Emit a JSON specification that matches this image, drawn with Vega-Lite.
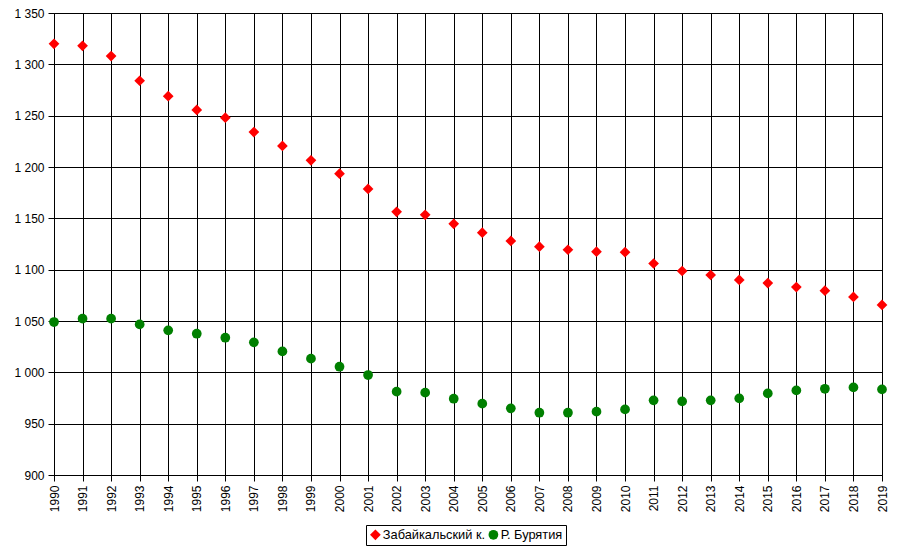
{
  "$schema": "https://vega.github.io/schema/vega-lite/v6.json",
  "width": 828,
  "height": 462,
  "autosize": {"type": "none"},
  "padding": {"left": 54, "top": 13, "right": 21, "bottom": 74},
  "background": "white",
  "data": {"values": [
    {"year": 1990, "region": "Забайкальский к.", "value": 1320},
    {"year": 1991, "region": "Забайкальский к.", "value": 1318},
    {"year": 1992, "region": "Забайкальский к.", "value": 1308},
    {"year": 1993, "region": "Забайкальский к.", "value": 1284},
    {"year": 1994, "region": "Забайкальский к.", "value": 1269},
    {"year": 1995, "region": "Забайкальский к.", "value": 1255.6},
    {"year": 1996, "region": "Забайкальский к.", "value": 1248},
    {"year": 1997, "region": "Забайкальский к.", "value": 1234},
    {"year": 1998, "region": "Забайкальский к.", "value": 1220.5},
    {"year": 1999, "region": "Забайкальский к.", "value": 1206.5},
    {"year": 2000, "region": "Забайкальский к.", "value": 1193.5},
    {"year": 2001, "region": "Забайкальский к.", "value": 1178.6},
    {"year": 2002, "region": "Забайкальский к.", "value": 1156.3},
    {"year": 2003, "region": "Забайкальский к.", "value": 1153.4},
    {"year": 2004, "region": "Забайкальский к.", "value": 1144.7},
    {"year": 2005, "region": "Забайкальский к.", "value": 1136},
    {"year": 2006, "region": "Забайкальский к.", "value": 1128},
    {"year": 2007, "region": "Забайкальский к.", "value": 1122.4},
    {"year": 2008, "region": "Забайкальский к.", "value": 1119.4},
    {"year": 2009, "region": "Забайкальский к.", "value": 1117.5},
    {"year": 2010, "region": "Забайкальский к.", "value": 1117},
    {"year": 2011, "region": "Забайкальский к.", "value": 1106},
    {"year": 2012, "region": "Забайкальский к.", "value": 1098.7},
    {"year": 2013, "region": "Забайкальский к.", "value": 1094.8},
    {"year": 2014, "region": "Забайкальский к.", "value": 1090},
    {"year": 2015, "region": "Забайкальский к.", "value": 1087},
    {"year": 2016, "region": "Забайкальский к.", "value": 1083},
    {"year": 2017, "region": "Забайкальский к.", "value": 1079.5},
    {"year": 2018, "region": "Забайкальский к.", "value": 1073.4},
    {"year": 2019, "region": "Забайкальский к.", "value": 1065.6},
    {"year": 1990, "region": "Р. Бурятия", "value": 1049},
    {"year": 1991, "region": "Р. Бурятия", "value": 1052.3},
    {"year": 1992, "region": "Р. Бурятия", "value": 1052.3},
    {"year": 1993, "region": "Р. Бурятия", "value": 1046.7},
    {"year": 1994, "region": "Р. Бурятия", "value": 1040.9},
    {"year": 1995, "region": "Р. Бурятия", "value": 1037.6},
    {"year": 1996, "region": "Р. Бурятия", "value": 1033.7},
    {"year": 1997, "region": "Р. Бурятия", "value": 1029.2},
    {"year": 1998, "region": "Р. Бурятия", "value": 1020.4},
    {"year": 1999, "region": "Р. Бурятия", "value": 1013.3},
    {"year": 2000, "region": "Р. Бурятия", "value": 1005.5},
    {"year": 2001, "region": "Р. Бурятия", "value": 997.4},
    {"year": 2002, "region": "Р. Бурятия", "value": 981.2},
    {"year": 2003, "region": "Р. Бурятия", "value": 980.2},
    {"year": 2004, "region": "Р. Бурятия", "value": 974.3},
    {"year": 2005, "region": "Р. Бурятия", "value": 969.5},
    {"year": 2006, "region": "Р. Бурятия", "value": 964.9},
    {"year": 2007, "region": "Р. Бурятия", "value": 960.7},
    {"year": 2008, "region": "Р. Бурятия", "value": 960.7},
    {"year": 2009, "region": "Р. Бурятия", "value": 961.7},
    {"year": 2010, "region": "Р. Бурятия", "value": 963.9},
    {"year": 2011, "region": "Р. Бурятия", "value": 972.7},
    {"year": 2012, "region": "Р. Бурятия", "value": 971.7},
    {"year": 2013, "region": "Р. Бурятия", "value": 972.7},
    {"year": 2014, "region": "Р. Бурятия", "value": 974.6},
    {"year": 2015, "region": "Р. Бурятия", "value": 979.5},
    {"year": 2016, "region": "Р. Бурятия", "value": 982.4},
    {"year": 2017, "region": "Р. Бурятия", "value": 984},
    {"year": 2018, "region": "Р. Бурятия", "value": 985.3},
    {"year": 2019, "region": "Р. Бурятия", "value": 983.4}
  ]},
  "mark": {"type": "point", "filled": true, "opacity": 1, "strokeWidth": 0},
  "encoding": {
    "x": {
      "field": "year", "type": "quantitative",
      "scale": {"domain": [1990, 2019], "nice": false, "zero": false},
      "axis": {
        "title": null,
        "values": [1990,1991,1992,1993,1994,1995,1996,1997,1998,1999,2000,2001,2002,2003,2004,2005,2006,2007,2008,2009,2010,2011,2012,2013,2014,2015,2016,2017,2018,2019],
        "format": "d",
        "labelAngle": -90,
        "labelPadding": 4,
        "labelOverlap": false,
        "labelFlush": false
      }
    },
    "y": {
      "field": "value", "type": "quantitative",
      "scale": {"domain": [900, 1350], "nice": false, "zero": false},
      "axis": {
        "title": null,
        "values": [900, 950, 1000, 1050, 1100, 1150, 1200, 1250, 1300, 1350],
        "labelExpr": "replace(format(datum.value, ','), ',', ' ')",
        "labelPadding": 4,
        "labelFlush": false,
        "labelOverlap": false
      }
    },
    "color": {
      "field": "region", "type": "nominal",
      "scale": {"domain": ["Забайкальский к.", "Р. Бурятия"], "range": ["#FF0000", "#008000"]},
      "legend": {
        "title": null,
        "orient": "none",
        "legendX": 312,
        "legendY": 512,
        "direction": "horizontal",
        "strokeColor": "black",
        "fillColor": "white",
        "padding": 3,
        "labelFont": "Liberation Sans",
        "labelFontSize": 12.8,
        "labelColor": "black",
        "labelOffset": 1,
        "columnPadding": 1,
        "symbolSize": 100,
        "symbolStrokeWidth": 0,
        "symbolOpacity": 1
      }
    },
    "shape": {
      "field": "region", "type": "nominal",
      "scale": {"domain": ["Забайкальский к.", "Р. Бурятия"], "range": ["diamond", "circle"]}
    },
    "size": {
      "field": "region", "type": "nominal",
      "scale": {"domain": ["Забайкальский к.", "Р. Бурятия"], "range": [115, 95]},
      "legend": null
    }
  },
  "config": {
    "view": {"stroke": "#808080", "strokeWidth": 1},
    "axis": {
      "grid": true,
      "gridColor": "black",
      "gridOpacity": 1,
      "gridWidth": 1,
      "domainColor": "black",
      "domainWidth": 1,
      "tickColor": "black",
      "tickSize": 6,
      "tickWidth": 1,
      "labelFont": "Liberation Sans",
      "labelFontSize": 12,
      "labelColor": "black"
    }
  }
}
